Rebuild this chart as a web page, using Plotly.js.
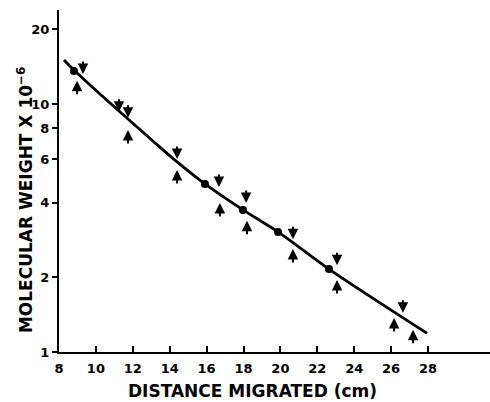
<!DOCTYPE html>
<html>
<head>
<meta charset="utf-8">
<script src="https://cdn.plot.ly/plotly-3.0.1.min.js"></script>
<style>html,body{margin:0;padding:0;background:#fff;}#chart{width:490px;height:402px;}</style>
</head>
<body>
<div id="chart"></div>
<script>
// Fitted curve
const curveX = [8.27, 8.81, 10.22, 11.74, 13.09, 14.40, 15.91, 17.97, 19.87, 22.63, 27.95];
const curveY = [15.05, 13.71, 10.97, 8.70, 7.09, 5.84, 4.76, 3.74, 3.05, 2.16, 1.19];
// Filled circle points
const circleX = [8.81, 15.91, 17.97, 19.87, 22.63];
const circleY = [13.6, 4.76, 3.74, 3.05, 2.16];
// Downward arrows (tip positions)
const downX = [9.30, 11.25, 11.74, 14.40, 16.67, 18.14, 20.68, 23.07, 26.64];
const downY = [13.2, 9.3, 8.8, 6.0, 4.63, 3.99, 2.85, 2.24, 1.44];
// Upward arrows (tip positions)
const upX = [8.98, 11.74, 14.40, 16.72, 18.19, 20.68, 23.07, 26.16, 27.19];
const upY = [12.4, 7.85, 5.42, 3.99, 3.38, 2.60, 1.95, 1.37, 1.23];
// Tick labels
const xTicks = [8, 10, 12, 14, 16, 18, 20, 22, 24, 26, 28];
const yTicks = [1, 2, 4, 6, 8, 10, 20];

const tickFont = {family: 'DejaVu Sans, sans-serif', size: 13, weight: 'bold', color: '#000'};
const titleFont = {family: 'DejaVu Sans, sans-serif', size: 17, weight: 'bold', color: '#000'};

const traces = [
  {x: curveX, y: curveY, mode: 'lines', type: 'scatter',
   line: {color: '#000', width: 2.8, shape: 'spline', smoothing: 0.8}, hoverinfo: 'skip'},
  {x: circleX, y: circleY, mode: 'markers', type: 'scatter',
   marker: {color: '#000', size: 8}}
];

const arrowBase = {text: '', showarrow: true, arrowhead: 2, arrowsize: 1.05, arrowwidth: 2,
  arrowcolor: '#000', standoff: 0, ax: 0, xref: 'x', yref: 'y'};
const annotations = [];
downX.forEach((x, i) => annotations.push(Object.assign({}, arrowBase, {x: x, y: Math.log10(downY[i]), ay: -14})));
upX.forEach((x, i) => annotations.push(Object.assign({}, arrowBase, {x: x, y: Math.log10(upY[i]), ay: 15})));
annotations.push({text: 'DISTANCE MIGRATED (cm)', showarrow: false, xref: 'paper', yref: 'paper',
  x: 0.45, y: -0.113, xanchor: 'center', yanchor: 'middle', borderpad: 0, font: titleFont});
annotations.push({text: 'MOLECULAR WEIGHT X 10<sup>−6</sup>', showarrow: false, xref: 'paper', yref: 'paper',
  x: -0.079, y: 0.444, xanchor: 'center', yanchor: 'middle', textangle: -90, font: titleFont});

const layout = {
  width: 490, height: 402,
  margin: {l: 59, r: 0, t: 10, b: 50},
  paper_bgcolor: '#fff', plot_bgcolor: '#fff',
  showlegend: false,
  xaxis: {range: [8, 31.36], showline: true, linecolor: '#000', linewidth: 2,
    ticks: 'inside', ticklen: 6, tickwidth: 2, tickcolor: '#000',
    tickvals: xTicks, ticktext: xTicks.map(String), tickfont: tickFont,
    ticklabelstandoff: 3,
    showgrid: false, zeroline: false},
  yaxis: {type: 'log', range: [0, 1.379], showline: true, linecolor: '#000', linewidth: 2,
    ticks: 'outside', ticklen: 5, tickwidth: 2, tickcolor: '#000',
    tickvals: yTicks, ticktext: yTicks.map(String), tickfont: tickFont,
    showgrid: false, zeroline: false},
  annotations: annotations
};

Plotly.newPlot('chart', traces, layout, {displayModeBar: false, staticPlot: true});
</script>
</body>
</html>
